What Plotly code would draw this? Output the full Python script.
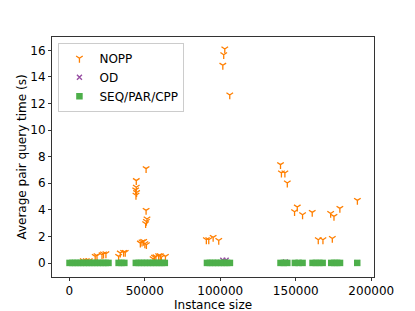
import plotly.graph_objects as go

# NOPP (orange tri-down)
nopp_x = [139900, 140500, 142800, 144400, 149200, 151000, 154500, 160900, 164900, 168000,
          173100, 174200, 175300, 179200, 190800,
          90800, 92400, 95300, 99000, 101700, 102300, 103000, 106300,
          44400, 50900, 44400, 44000, 44600, 44200, 50900, 51500, 51100, 50600,
          47100, 48200, 49300, 51100, 50100,
          55500, 56400, 57400, 59200, 60300, 61000, 63700,
          17200, 18400, 21700, 22700, 24300, 32700, 33800, 36000, 37100,
          9300, 11300, 13300]
nopp_y = [7.40, 6.77, 6.77, 6.02, 3.86, 4.21, 3.63, 3.81, 1.75, 1.75,
          3.73, 1.85, 3.51, 4.11, 4.71,
          1.75, 1.75, 1.93, 1.70, 14.87, 15.67, 16.10, 12.64,
          6.20, 7.10, 5.70, 5.50, 5.30, 5.10, 3.96, 3.31, 3.13, 2.96,
          1.50, 1.58, 1.63, 1.38, 1.45,
          0.32, 0.44, 0.47, 0.55, 0.55, 0.44, 0.50,
          0.50, 0.55, 0.62, 0.68, 0.70, 0.50, 0.75, 0.80, 0.80,
          0.17, 0.17, 0.17]

# OD (purple x)
od_x = [101700, 103900, 143200, 5000, 20000, 35000, 48000, 60000, 95000,
        152000, 164000, 176000, 190700]
od_y = [0.21, 0.21, 0.08, 0.03, 0.03, 0.03, 0.03, 0.03, 0.03,
        0.03, 0.03, 0.03, 0.03]

# SEQ/PAR/CPP (green squares)
seq_x = [200, 2100, 4000, 5800, 7700, 9500, 11400, 13200, 15100, 16900, 18800, 20600,
         22500, 24300, 26000,
         32700, 34600, 36500,
         44100, 46000, 48000, 49900, 51800, 53700, 55600, 57600, 59500, 61400, 63300,
         91200, 93100, 95000, 96900, 98800, 100700, 102600, 104500, 106400,
         139900, 142100, 144400,
         149400, 151900, 154500,
         161100, 163300, 165600, 167800,
         173500, 175400, 177400, 179300,
         190700]
seq_y = [0.01] * len(seq_x)

x_title = "Instance size"
y_title = "Average pair query time (s)"

fig = go.Figure()
fig.add_trace(go.Scatter(
    x=nopp_x, y=nopp_y, mode="markers", name="NOPP",
    marker=dict(symbol="y-down-open", size=5.5, color="#ff7f00",
                line=dict(color="#ff7f00", width=1.3))))
fig.add_trace(go.Scatter(
    x=od_x, y=od_y, mode="markers", name="OD",
    marker=dict(symbol="x-thin-open", size=5, color="#984ea3",
                line=dict(color="#984ea3", width=1.4))))
fig.add_trace(go.Scatter(
    x=seq_x, y=seq_y, mode="markers", name="SEQ/PAR/CPP",
    marker=dict(symbol="square", size=6.5, color="#4daf4a", line=dict(width=0))))

axis_common = dict(
    showline=True, linecolor="#333333", linewidth=1, mirror=True,
    ticks="outside", ticklen=3, tickcolor="#333333", tickwidth=1,
    showgrid=False, zeroline=False, automargin=False,
    tickfont=dict(family="DejaVu Sans", size=12, color="#000000"),
)

# page body adds an 8px offset; margins compensate so the plot lands in place
fig.update_layout(
    width=415, height=311,
    margin=dict(l=44, r=49, t=29, b=42),
    paper_bgcolor="white", plot_bgcolor="white",
    font=dict(family="DejaVu Sans", size=12, color="#000000"),
    showlegend=True,
    legend=dict(x=0.02, y=0.976, xanchor="left", yanchor="top",
                bgcolor="rgba(255,255,255,0.8)", bordercolor="#cccccc", borderwidth=1,
                font=dict(family="DejaVu Sans", size=12, color="#000000")),
    xaxis=dict(range=[-11400, 201800], tickvals=[0, 50000, 100000, 150000, 200000],
               ticktext=["0", "50000", "100000", "150000", "200000"],
               **axis_common),
    yaxis=dict(range=[-1.05, 17.0], tickvals=[0, 2, 4, 6, 8, 10, 12, 14, 16],
               title=dict(text=y_title, standoff=1,
                          font=dict(family="DejaVu Sans", size=12)),
               **axis_common),
    annotations=[dict(text=x_title, xref="paper", yref="paper", x=0.5, y=-0.116,
                      xanchor="center", yanchor="middle", showarrow=False,
                      borderpad=0,
                      font=dict(family="DejaVu Sans", size=12, color="#000000"))],
)

fig.write_html("out.html")
